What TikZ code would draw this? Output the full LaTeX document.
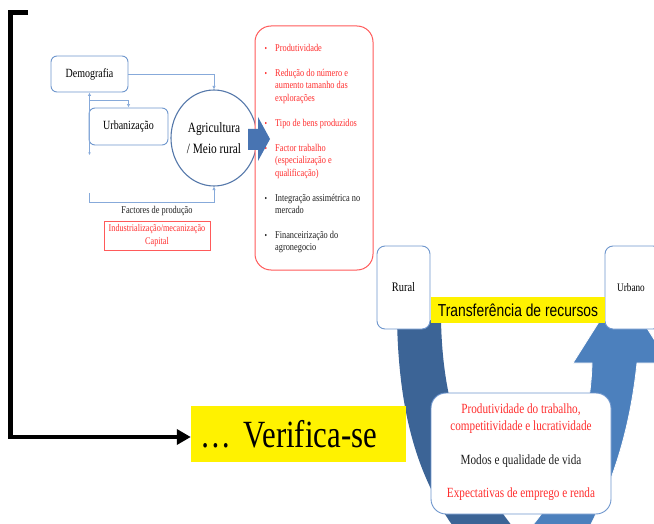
\documentclass[tikz,border=0pt]{standalone}
\usepackage{fontspec}
\setmainfont{Liberation Serif}[FakeStretch=0.8]
\newfontfamily\arialf{Liberation Sans}[FakeStretch=0.8]
\usetikzlibrary{arrows.meta,shapes.geometric}
\definecolor{boxblue}{RGB}{110,150,205}
\definecolor{linkblue}{RGB}{135,170,218}
\definecolor{circblue}{RGB}{85,120,170}
\definecolor{arrblue}{RGB}{72,116,178}
\definecolor{darkarm}{RGB}{60,100,150}
\definecolor{lightarm}{RGB}{76,128,189}
\definecolor{redtxt}{RGB}{255,45,45}
\definecolor{redline}{RGB}{255,90,90}
\definecolor{txtgray}{RGB}{30,30,30}
\tikzset{
  bbox/.style={draw=boxblue, line width=0.9pt, rounded corners=6pt, fill=white, inner sep=0pt},
  link/.style={draw=linkblue, line width=0.8pt},
  tipb/.style={-{Latex[length=3.5pt,width=3.5pt]}},
  rline/.style={text=redtxt, anchor=mid west, inner sep=0pt, font=\fontsize{10.4}{12}\selectfont},
  kline/.style={text=txtgray, anchor=mid west, inner sep=0pt, font=\fontsize{10.4}{12}\selectfont},
  rbul/.style={text=redtxt, anchor=mid, inner sep=0pt, font=\fontsize{9}{10}\selectfont},
  kbul/.style={text=txtgray, anchor=mid, inner sep=0pt, font=\fontsize{9}{10}\selectfont},
  btxt/.style={inner sep=0pt, anchor=mid, font=\fontsize{14}{16}\selectfont},
}
\begin{document}
\begin{tikzpicture}[x=1pt,y=-1pt]
\useasboundingbox (0,0) rectangle (654,524);
\clip (0,0) rectangle (654,524);

% ---------- upper left diagram ----------
\node[bbox, minimum width=77pt, minimum height=36pt, font=\fontsize{12.5}{14}\selectfont] (demo) at (89.5,74) {Demografia};
\node[bbox, minimum width=79pt, minimum height=37pt, font=\fontsize{12.5}{14}\selectfont] (urb) at (128.5,126.5) {Urbanização};
\node[ellipse, draw=circblue, line width=1.1pt, fill=white, minimum width=86pt, minimum height=96pt, inner sep=0pt, align=center, font=\fontsize{14.2}{21}\selectfont] (agri) at (214,138) {Agricultura\\/ Meio rural};

\draw[link, tipb] (demo.east) -- (agri.north |- demo.east) -- (agri.north);
\coordinate (lb) at (89.5,155);
\draw[link, {Latex[length=3.5pt,width=3.5pt]}-{Latex[length=2.5pt,width=2.5pt]}] (demo.south) -- (lb);
\coordinate (br) at (89.5,100);
\draw[link, tipb] (br) -| (urb.north);
\coordinate (fb) at (89.5,193);
\coordinate (fc) at (89.5,202);
\draw[link, tipb] (fb) -- (fc) -| (agri.south);

\node[inner sep=0pt, anchor=mid, font=\fontsize{10.4}{12}\selectfont, text=txtgray] (fact) at (157,211) {Factores de produção};
\node[draw=redline, line width=0.6pt, minimum width=106pt, minimum height=29pt, inner sep=0pt, align=center, text=redtxt, font=\fontsize{10.2}{13}\selectfont] (ind) at (157,235.5) {Industrialização/mecanização\\Capital};

% ---------- red list box ----------
\draw[draw=redline, line width=1pt, rounded corners=16pt, fill=white] (255,26) rectangle (373,270);
\node[rbul] (b1) at (266,49) {•};
\node[rline] (t1) at (275,49) {Produtividade};
\node[rbul] (b2) at (266,74) {•};
\node[rline] (t2a) at (275,74) {Redução do número e};
\node[rline] (t2b) at (275,86.5) {aumento tamanho das};
\node[rline] (t2c) at (275,99) {explorações};
\node[rbul] (b3) at (266,124) {•};
\node[rline] (t3) at (275,124) {Tipo de bens produzidos};
\node[rbul] (b4) at (266,149) {•};
\node[rline] (t4a) at (275,149) {Factor trabalho};
\node[rline] (t4b) at (275,161.5) {(especialização e};
\node[rline] (t4c) at (275,174) {qualificação)};
\node[kbul] (b5) at (266,199) {•};
\node[kline] (t5a) at (275,199) {Integração assimétrica no};
\node[kline] (t5b) at (275,211.5) {mercado};
\node[kbul] (b6) at (266,236) {•};
\node[kline] (t6a) at (275,236) {Financeirização do};
\node[kline] (t6b) at (275,248.5) {agronegocio};

% block arrow from circle to list
\fill[arrblue] (248,129) -- (258,129) -- (258,117) -- (270,139) -- (258,161) -- (258,150) -- (248,150) -- cycle;

% ---------- U-shaped transfer arrow ----------
\fill[darkarm] (397,320) .. controls (399,420) and (420,490) .. (470,548)
  -- (530,548) .. controls (472,480) and (443,420) .. (441,320) -- cycle;
\filldraw[fill=lightarm, draw=white, line width=0.8pt] (512,548) .. controls (560,500) and (590,440) .. (592,363)
  -- (573,363) -- (621,287) -- (669,363) -- (637,363)
  .. controls (630,430) and (612,490) .. (578,548) -- cycle;

\node[bbox, rounded corners=8pt, minimum width=53pt, minimum height=83pt, font=\fontsize{13}{15}\selectfont] (rural) at (403.5,287.5) {Rural};
\node[bbox, rounded corners=8pt, minimum width=56pt, minimum height=83pt] (urbano) at (633,287.5) {};
\node[inner sep=0pt, anchor=mid, font=\fontsize{11.5}{13}\selectfont] (urbtxt) at (631,289) {Urbano};
\node[fill=yellow, minimum width=174pt, minimum height=26pt, inner sep=0pt, font=\arialf\fontsize{17.3}{19}\selectfont] (transf) at (518,310) {Transferência de recursos};

\node[bbox, rounded corners=15pt, minimum width=180pt, minimum height=121pt] (cond) at (521,453.5) {};
\node[btxt, text=redtxt] (c1) at (521,411) {Produtividade do trabalho,};
\node[btxt, text=redtxt] (c2) at (521,428) {competitividade e lucratividade};
\node[btxt, text=txtgray] (c3) at (521,462) {Modos e qualidade de vida};
\node[btxt, text=redtxt] (c4) at (521,495) {Expectativas de emprego e renda};

% ---------- Verifica-se ----------
\node[fill=yellow, minimum height=56pt, text width=197pt, inner xsep=9pt, inner ysep=0pt, align=left, font=\fontsize{38.5}{42}\selectfont] (verif) at (298.5,434) {… Verifica-se};

\coordinate (bstart) at (28,12.5);
\draw[line width=4.5pt, -{Triangle[length=14pt,width=15pt]}] (bstart) -- (10.5,12.5) |- ([yshift=-3pt]verif.west);
\end{tikzpicture}
\end{document}
